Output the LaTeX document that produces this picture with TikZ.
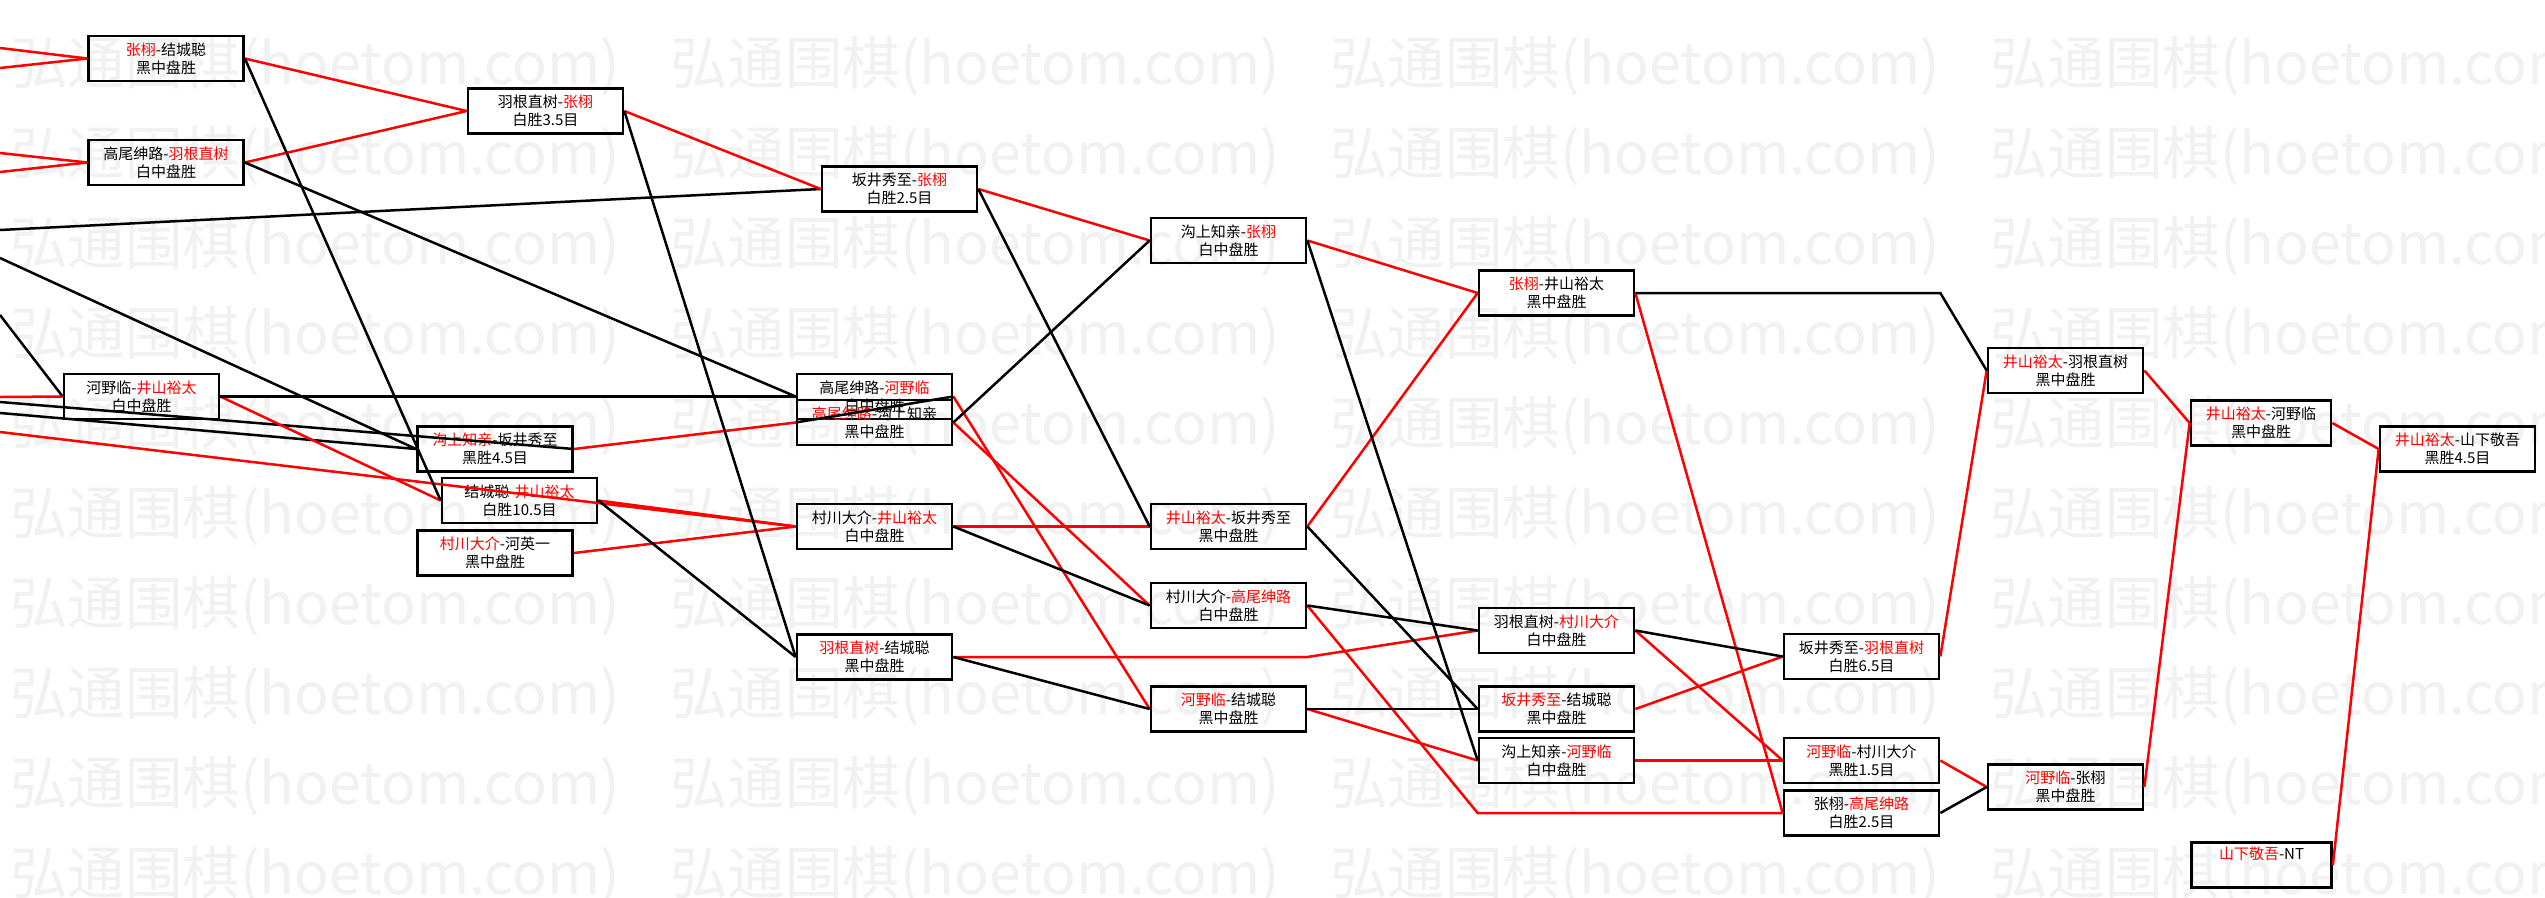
\documentclass[tikz,border=0pt]{standalone}
\usepackage{fontspec}
\usepackage{graphicx}
\setmainfont{Noto Sans CJK SC}
\newfontfamily\wmfont{Noto Sans CJK SC}
\usetikzlibrary{calc}
\definecolor{wmgray}{RGB}{241,241,241}
\newcommand{\rd}[1]{\textcolor{red}{#1}}
\newcommand{\wmtext}{\resizebox{610pt}{!}{\wmfont\fontsize{50pt}{50pt}\selectfont 弘通围棋(hoetom.com)}}
\begin{document}
\begin{tikzpicture}[x=1pt,y=-1pt,
  game/.style={draw=black, line width=2.7pt, rectangle, minimum width=155pt,
    minimum height=45pt, inner sep=0pt, align=center,
    font=\fontsize{15pt}{18pt}\selectfont},
  narrow/.style={minimum width=140pt},
  win/.style={draw=red, line width=2.5pt},
  lose/.style={draw=black, line width=2.5pt},
  wm/.style={anchor=west, inner sep=0pt, text=wmgray}
]
\useasboundingbox (0,0) rectangle (2545,897);
\fill[white] (0,0) rectangle (2545,897);
% watermark
\foreach \k in {0,...,9}{
  \foreach \xx [count=\i] in {10,670,1330,1990}{
    \node[wm] (wm\k-\i) at (\xx,{66+90*\k}) {\wmtext};
  }
}
% nodes
\node[game] (A1) at (166,58.5) {\rd{张栩}-结城聪\\黑中盘胜};
\node[game] (A2) at (166,162.5) {高尾绅路-\rd{羽根直树}\\白中盘胜};
\node[game] (A3) at (141.5,396.5) {河野临-\rd{井山裕太}\\白中盘胜};
\node[game] (B1) at (545.5,111) {羽根直树-\rd{张栩}\\白胜3.5目};
\node[game] (C1) at (495,449) {\rd{沟上知亲}-坂井秀至\\黑胜4.5目};
\node[game] (C2) at (519.5,500.5) {结城聪-\rd{井山裕太}\\白胜10.5目};
\node[game] (C3) at (495,553) {\rd{村川大介}-河英一\\黑中盘胜};
\node[game] (D1) at (899.5,189) {坂井秀至-\rd{张栩}\\白胜2.5目};
\node[game] (D2) at (874.5,396.5) {高尾绅路-\rd{河野临}\\白中盘胜};
\node[game] (D3) at (874.5,422.5) {\rd{高尾绅路}-沟上知亲\\黑中盘胜};
\node[game] (D4) at (874.5,526.5) {村川大介-\rd{井山裕太}\\白中盘胜};
\node[game] (D5) at (874.5,657) {\rd{羽根直树}-结城聪\\黑中盘胜};
\node[game] (E1) at (1228.5,240.5) {沟上知亲-\rd{张栩}\\白中盘胜};
\node[game] (E2) at (1228.5,526.5) {\rd{井山裕太}-坂井秀至\\黑中盘胜};
\node[game] (E3) at (1228.5,605.5) {村川大介-\rd{高尾绅路}\\白中盘胜};
\node[game] (E4) at (1228.5,709) {\rd{河野临}-结城聪\\黑中盘胜};
\node[game] (F1) at (1556.5,293) {\rd{张栩}-井山裕太\\黑中盘胜};
\node[game] (F2) at (1556.5,630.5) {羽根直树-\rd{村川大介}\\白中盘胜};
\node[game] (F3) at (1556.5,709) {\rd{坂井秀至}-结城聪\\黑中盘胜};
\node[game] (F4) at (1556.5,760.5) {沟上知亲-\rd{河野临}\\白中盘胜};
\node[game] (G1) at (1861.5,656.5) {坂井秀至-\rd{羽根直树}\\白胜6.5目};
\node[game] (G2) at (1861.5,760.5) {\rd{河野临}-村川大介\\黑胜1.5目};
\node[game] (G3) at (1861.5,813) {张栩-\rd{高尾绅路}\\白胜2.5目};
\node[game] (H1) at (2065.5,370.5) {\rd{井山裕太}-羽根直树\\黑中盘胜};
\node[game] (H2) at (2065.5,787) {\rd{河野临}-张栩\\黑中盘胜};
\node[game,narrow] (I1) at (2261,423) {\rd{井山裕太}-河野临\\黑中盘胜};
\node[game] (J1) at (2457.5,449) {\rd{井山裕太}-山下敬吾\\黑胜4.5目};
\node[game,narrow] (K1) at (2261.5,865) {\rd{山下敬吾}-NT\\\strut};
% free ends at the left edge
\coordinate (lA1a) at (0,48);
\coordinate (lA1b) at (0,68);
\coordinate (lA2a) at (0,153);
\coordinate (lA2b) at (0,172);
\coordinate (lD1) at (0,230);
\coordinate (lC1a) at (0,258);
\coordinate (lA3a) at (0,315);
\coordinate (lA3b) at (0,397);
\coordinate (lC1b) at (0,402);
\coordinate (lC1c) at (0,413);
\coordinate (lD4) at (0,432);
% corners
\coordinate (cD5) at (D5.east -| E4.east);
\coordinate (cE3) at (F4.west |- G3.west);
\coordinate (cF1) at (G1.east |- F1.east);
% connectors from the left edge
\draw[win] (lA1a) -- (A1.west);
\draw[win] (lA1b) -- (A1.west);
\draw[win] (lA2a) -- (A2.west);
\draw[win] (lA2b) -- (A2.west);
\draw[lose] (lD1) -- (D1.west);
\draw[lose] (lC1a) -- (C1.west);
\draw[lose] (lA3a) -- (A3.west);
\draw[win] (lA3b) -- (A3.west);
\draw[lose] (lC1b) -- (C1.east);
\draw[lose] (lC1c) -- (C1.west);
\draw[win] (lD4) -- (D4.west);
% winners
\draw[win] (A1.east) -- (B1.west);
\draw[win] (A2.east) -- (B1.west);
\draw[win] (A3.east) -- (C2.west);
\draw[win] (B1.east) -- (D1.west);
\draw[win] (C1.east) -- (D3.west);
\draw[win] (C2.east) -- (D4.west);
\draw[win] (C3.east) -- (D4.west);
\draw[win] (D1.east) -- (E1.west);
\draw[win] (D2.east) -- (E4.west);
\draw[win] (D3.east) -- (E3.west);
\draw[win] (D4.east) -- (E2.west);
\draw[win] (D5.east) -- (cD5) -- (F2.west);
\draw[win] (E1.east) -- (F1.west);
\draw[win] (E2.east) -- (F1.west);
\draw[win] (E3.east) -- (cE3) -- (G3.west);
\draw[win] (E4.east) -- (F4.west);
\draw[win] (F1.east) -- (G3.west);
\draw[win] (F2.east) -- (G2.west);
\draw[win] (F3.east) -- (G1.west);
\draw[win] (F4.east) -- (G2.west);
\draw[win] (G1.east) -- (H1.west);
\draw[win] (G2.east) -- (H2.west);
\draw[win] (H1.east) -- (I1.west);
\draw[win] (H2.east) -- (I1.west);
\draw[win] (I1.east) -- (J1.west);
\draw[win] (K1.east) -- (J1.west);
% losers
\draw[lose] (A1.east) -- (C2.west);
\draw[lose] (A2.east) -- (D2.west);
\draw[lose] (A3.east) -- (D2.west);
\draw[lose] (B1.east) -- (D5.west);
\draw[lose] (C2.east) -- (D5.west);
\draw[lose] (D1.east) -- (E2.west);
\draw[lose] (D2.east) -- (D3.west);
\draw[lose] (D3.east) -- (E1.west);
\draw[lose] (D4.east) -- (E3.west);
\draw[lose] (D5.east) -- (E4.west);
\draw[lose] (E1.east) -- (F4.west);
\draw[lose] (E2.east) -- (F3.west);
\draw[lose] (E3.east) -- (F2.west);
\draw[lose] (E4.east) -- (F3.west);
\draw[lose] (F1.east) -- (cF1) -- (H1.west);
\draw[lose] (F2.east) -- (G1.west);
\draw[lose] (G3.east) -- (H2.west);
\end{tikzpicture}
\end{document}
